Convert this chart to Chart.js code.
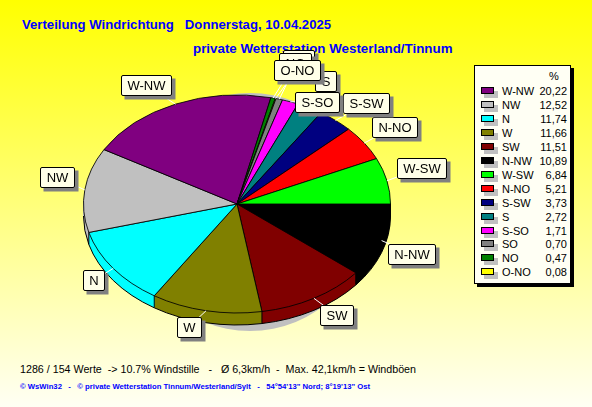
<!DOCTYPE html>
<html>
<head>
<meta charset="utf-8">
<script src="https://cdn.jsdelivr.net/npm/chart.js@4"></script>
<style>
html, body { margin: 0; padding: 0; }
body { width: 592px; height: 407px; position: relative; overflow: hidden;
  background: linear-gradient(to bottom, #ffff00 0%, #fffff4 100%);
  font-family: Arial, "Liberation Sans", sans-serif; }
.txt { position: absolute; white-space: pre; line-height: 14px; }
.blue { color: #0000ff; font-weight: bold; font-size: 13.3px; }
#chart { position: absolute; left: 0; top: 0; }
#legend { position: absolute; left: 474px; top: 65px; width: 95px; height: 217px;
  background: #fffff4; border: 1px solid #000; box-shadow: 3px 3px 0 #000; font-size: 11px; color: #000; }
#legend div { position: absolute; }
</style>
</head>
<body>
<div class="txt blue" style="left:22px;top:18px;font-size:13.17px;">Verteilung Windrichtung   Donnerstag, 10.04.2025</div>
<div class="txt blue" style="left:193px;top:42px;font-size:13.35px;">private Wetterstation Westerland/Tinnum</div>
<div class="txt" style="left:20px;top:362px;font-size:10.7px;color:#000;">1286 / 154 Werte  -&gt; 10.7% Windstille   -   Ø 6,3km/h  -  Max. 42,1km/h = Windböen</div>
<div class="txt blue" style="left:20px;top:380px;font-size:7.7px;">© WsWin32   -   © private Wetterstation Tinnum/Westerland/Sylt   -   54°54'13" Nord; 8°19'13" Ost</div>
<div id="legend"></div>
<canvas id="chart" width="592" height="407"></canvas>
<script>
// Daten, im Uhrzeigersinn ab 3 Uhr
const categories = ['N-NW', 'SW', 'W', 'N', 'NW', 'W-NW', 'NO', 'O-NO', 'SO', 'S-SO', 'S', 'S-SW', 'N-NO', 'W-SW'];
const percents = [10.89, 11.51, 11.66, 11.74, 12.52, 20.22, 0.47, 0.08, 0.70, 1.71, 2.72, 3.73, 5.21, 6.84];
const colors = ['#000000', '#800000', '#808000', '#00ffff', '#c0c0c0', '#800080', '#008000', '#ffff00', '#808080', '#ff00ff', '#008080', '#000080', '#ff0000', '#00ff00'];

// Versatz der Beschriftung zur Kante des Segments
const calloutOffsets = {
    'N-NW': [30, 13], 'SW': [23, 17], 'W': [-17, 16], 'N': [-20, 12], 'NW': [-28, -13], 'W-NW': [-29, -19],
    'NO': [22, -35], 'O-NO': [21, -29], 'SO': [19, -39], 'S-SO': [27, 0], 'S': [16, -27], 'S-SW': [31, -17],
    'N-NO': [30, -16], 'W-SW': [35, -13]
};

const squash = 0.71;   // Ellipse: Hoehe / Breite
const depth = 12;      // Hoehe des Kuchens in px

// Reihenfolge der Legende: nach Prozent absteigend
const byValue = categories.map((c, i) => i).sort((a, b) => percents[b] - percents[a]);

function buildLegend() {
    const box = document.getElementById('legend');
    let html = '<div style="left:74px;top:4px;">%</div>';
    byValue.forEach((i, row) => {
        const y = 19 + row * 13.95;
        html += `<div style="left:9px;top:${y + 6}px;width:14px;height:7px;background:#c0c0c0;"></div>`;
        html += `<div style="left:6px;top:${y + 2}px;width:11px;height:5px;background:${colors[i]};border:1px solid #000;"></div>`;
        html += `<div style="left:27px;top:${y}px;">${categories[i]}</div>`;
        html += `<div style="right:3px;top:${y}px;">${percents[i].toFixed(2).replace('.', ',')}</div>`;
    });
    box.innerHTML = html;
}

function applySquash(ctx, cy) {
    ctx.translate(0, cy);
    ctx.scale(1, squash);
    ctx.translate(0, -cy);
}

const pie3d = {
    id: 'pie3d',
    beforeDatasetsDraw(chart) {
        const ctx = chart.ctx;
        const arcs = chart.getDatasetMeta(0).data;
        const { x, y, outerRadius: r } = arcs[0];

        // Schatten hinter dem Kuchen
        ctx.save();
        ctx.fillStyle = '#c0c0c0';
        ctx.beginPath();
        ctx.ellipse(x + 13, y + 8, r - 34, r * squash + 10, 0, 0, Math.PI * 2);
        ctx.fill();
        ctx.restore();

        // Seitenwand
        for (let d = depth; d > 0; d--) {
            ctx.save();
            ctx.translate(0, d);
            applySquash(ctx, y);
            arcs.forEach(a => {
                ctx.fillStyle = a.options.backgroundColor;
                ctx.beginPath();
                ctx.moveTo(x, y);
                ctx.arc(x, y, r, a.startAngle, a.endAngle);
                ctx.closePath();
                ctx.fill();
            });
            ctx.restore();
        }

        // Unterkante und senkrechte Kanten, nur vorne sichtbar
        ctx.strokeStyle = '#000';
        ctx.lineWidth = 1;
        arcs.forEach(a => {
            const from = Math.max(a.startAngle, 0);
            const to = Math.min(a.endAngle, Math.PI);
            if (from >= to) return;
            ctx.beginPath();
            ctx.ellipse(x, y + depth, r, r * squash, 0, from, to);
            ctx.stroke();
            const px = x + r * Math.cos(from);
            const py = y + r * squash * Math.sin(from);
            ctx.beginPath();
            ctx.moveTo(px, py);
            ctx.lineTo(px, py + depth);
            ctx.stroke();
        });

        // Deckel: wird von Chart.js in die Ellipse gezeichnet
        ctx.save();
        applySquash(ctx, y);
    },
    afterDatasetsDraw(chart) {
        const ctx = chart.ctx;
        ctx.restore();
        const arcs = chart.getDatasetMeta(0).data;
        ctx.font = '13px Arial, "Liberation Sans", sans-serif';
        ctx.textAlign = 'center';
        ctx.textBaseline = 'middle';
        byValue.forEach(i => {
            const a = arcs[i];
            const mid = (a.startAngle + a.endAngle) / 2;
            const ax = a.x + a.outerRadius * Math.cos(mid);
            const ay = a.y + a.outerRadius * squash * Math.sin(mid);
            const [ox, oy] = calloutOffsets[categories[i]];
            const cx = ax + ox;
            const cy = ay + oy;
            const w = Math.round(ctx.measureText(categories[i]).width) + 12;
            const h = 20;
            const left = Math.round(cx - w / 2) + 0.5;
            const top = Math.round(cy - h / 2) + 0.5;

            ctx.strokeStyle = '#ffffff';
            ctx.lineWidth = 1;
            ctx.beginPath();
            ctx.moveTo(ax, ay);
            ctx.lineTo(cx, cy);
            ctx.stroke();

            ctx.fillStyle = '#808080';
            ctx.fillRect(left + 3, top + 3, w + 1, h + 1);
            ctx.fillStyle = '#ffffe8';
            ctx.strokeStyle = '#000000';
            ctx.beginPath();
            ctx.roundRect(left, top, w, h, 1.5);
            ctx.fill();
            ctx.stroke();
            ctx.fillStyle = '#000000';
            ctx.fillText(categories[i], left + w / 2, top + h / 2 + 0.5);
        });
    }
};

buildLegend();

new Chart(document.getElementById('chart'), {
    type: 'pie',
    data: {
        labels: categories,
        datasets: [{
            data: percents,
            backgroundColor: colors,
            borderColor: '#000000',
            borderWidth: 1
        }]
    },
    options: {
        responsive: false,
        animation: false,
        rotation: 90,
        layout: { padding: { left: 83, right: 201, top: 50, bottom: 49 } },
        plugins: { legend: { display: false }, tooltip: { enabled: false } }
    },
    plugins: [pie3d]
});
</script>
</body>
</html>
